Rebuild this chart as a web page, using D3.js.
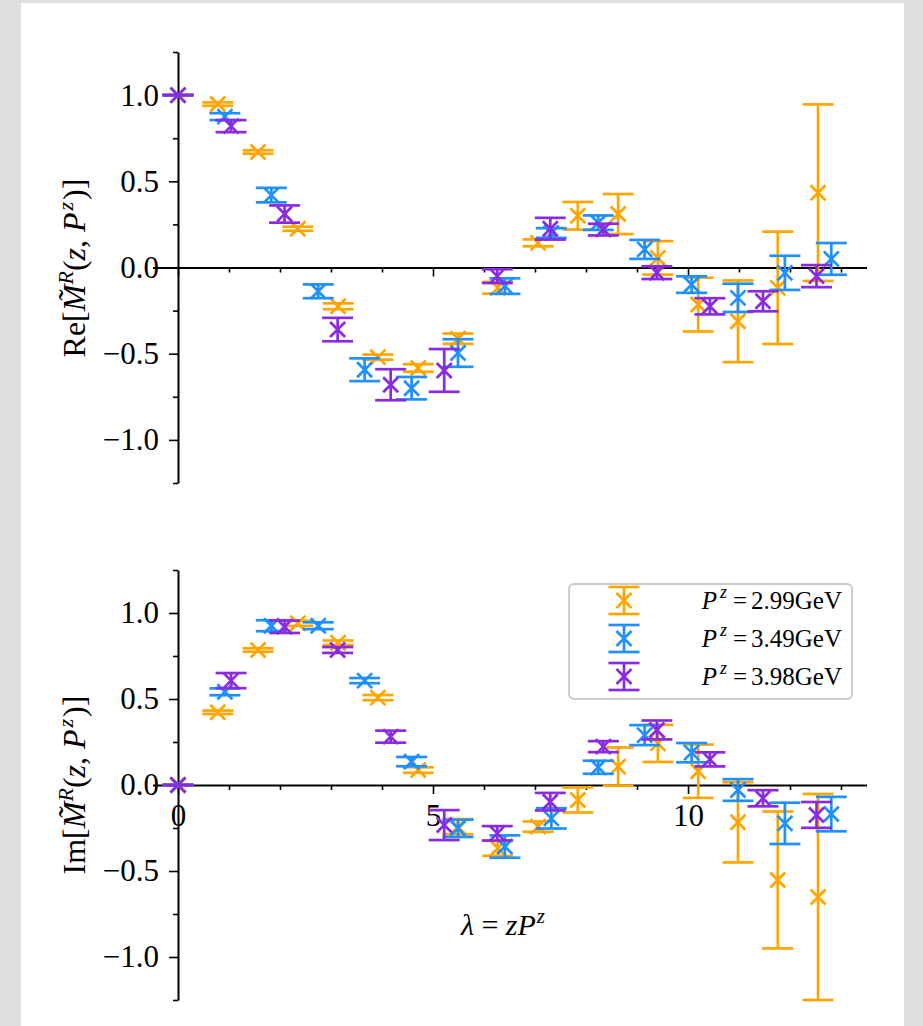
<!DOCTYPE html>
<html>
<head>
<meta charset="utf-8">
<script src="https://cdn.jsdelivr.net/npm/d3@7"></script>
<style>
  html, body { margin: 0; padding: 0; background: #dfdfdf; }
  svg { display: block; }
  text { font-family: "Liberation Serif", "Times New Roman", serif; fill: #000; }
</style>
</head>
<body>
<svg id="fig" width="923" height="1026"></svg>
<script>
// ---- data: λ = z·P^z for each momentum, real and imaginary parts with errors ----
const momenta = ["2.99", "3.49", "3.98"];
const colors = ["#FFA500", "#1E90FF", "#8A2BE2"];

const lambda299 = [0, 0.78, 1.57, 2.35, 3.14, 3.92, 4.71, 5.49, 6.27, 7.06, 7.84, 8.63, 9.41, 10.20, 10.98, 11.76, 12.55];
const re299     = [1.0, 0.948, 0.67, 0.225, -0.225, -0.52, -0.583, -0.413, -0.118, 0.143, 0.30, 0.31, 0.056, -0.215, -0.312, -0.118, 0.434];
const reErr299  = [0, 0.01, 0.01, 0.012, 0.017, 0.015, 0.022, 0.03, 0.034, 0.02, 0.08, 0.116, 0.097, 0.156, 0.237, 0.326, 0.512];
const im299     = [0, 0.423, 0.785, 0.94, 0.827, 0.508, 0.087, -0.242, -0.368, -0.242, -0.087, 0.107, 0.242, 0.08, -0.217, -0.552, -0.651];
const imErr299  = [0, 0.01, 0.01, 0.015, 0.013, 0.015, 0.016, 0.044, 0.044, 0.03, 0.073, 0.111, 0.108, 0.155, 0.233, 0.398, 0.599];

const lambda349 = [0, 0.92, 1.83, 2.75, 3.66, 4.58, 5.49, 6.41, 7.32, 8.24, 9.15, 10.07, 10.98, 11.90, 12.81];
const re349     = [1.0, 0.875, 0.42, -0.138, -0.593, -0.70, -0.496, -0.108, 0.20, 0.26, 0.105, -0.099, -0.176, -0.031, 0.05];
const reErr349  = [0, 0.02, 0.042, 0.04, 0.066, 0.065, 0.08, 0.045, 0.028, 0.042, 0.055, 0.048, 0.082, 0.099, 0.092];
const im349     = [0, 0.542, 0.926, 0.926, 0.607, 0.136, -0.252, -0.358, -0.194, 0.103, 0.29, 0.188, -0.029, -0.223, -0.169];
const imErr349  = [0, 0.02, 0.032, 0.02, 0.015, 0.027, 0.05, 0.065, 0.059, 0.038, 0.058, 0.056, 0.063, 0.12, 0.10];

const lambda398 = [0, 1.04, 2.09, 3.13, 4.17, 5.22, 6.26, 7.30, 8.34, 9.39, 10.43, 11.47, 12.52];
const re398     = [1.0, 0.82, 0.31, -0.36, -0.68, -0.597, -0.05, 0.225, 0.22, -0.03, -0.225, -0.196, -0.05];
const reErr398  = [0, 0.035, 0.05, 0.068, 0.09, 0.124, 0.04, 0.063, 0.034, 0.037, 0.047, 0.058, 0.064];
const im398     = [0, 0.607, 0.92, 0.785, 0.281, -0.233, -0.281, -0.097, 0.223, 0.32, 0.149, -0.077, -0.174];
const imErr398  = [0, 0.044, 0.036, 0.017, 0.035, 0.087, 0.042, 0.051, 0.032, 0.055, 0.041, 0.047, 0.075];

const xMajorTicks = [0, 5, 10];
const xMinorTicks = [1, 2, 3, 4, 6, 7, 8, 9, 11, 12, 13];
const yMajorTicks = [-1.0, -0.5, 0.0, 0.5, 1.0];
const yMinorTicks = [-1.25, -0.75, -0.25, 0.25, 0.75, 1.25];

// ---- assemble series ----
const series = [
  { p: momenta[0], color: colors[0], lam: lambda299, re: re299, reErr: reErr299, im: im299, imErr: imErr299 },
  { p: momenta[1], color: colors[1], lam: lambda349, re: re349, reErr: reErr349, im: im349, imErr: imErr349 },
  { p: momenta[2], color: colors[2], lam: lambda398, re: re398, reErr: reErr398, im: im398, imErr: imErr398 }
];

const svg = d3.select("#fig");
svg.append("rect").attr("x", 0).attr("y", 0).attr("width", 923).attr("height", 1026).attr("fill", "#dfdfdf");
svg.append("rect").attr("x", 21).attr("y", 3).attr("width", 883).attr("height", 1023).attr("fill", "#ffffff");

const x = d3.scaleLinear().domain([-0.5, 13.5]).range([152.5, 866.5]);
const yRe = d3.scaleLinear().domain([-1.25, 1.25]).range([483, 52]);
const yIm = d3.scaleLinear().domain([-1.25, 1.25]).range([1000, 570]);

const CAP = 15.5, MK = 7.5, LW = 2.7;

function errorGlyph(g, cx, cy, yLo, yHi, color) {
  g.append("line").attr("x1", cx).attr("x2", cx).attr("y1", yLo).attr("y2", yHi)
    .attr("stroke", color).attr("stroke-width", LW);
  [yLo, yHi].forEach(yy => g.append("line")
    .attr("x1", cx - CAP).attr("x2", cx + CAP).attr("y1", yy).attr("y2", yy)
    .attr("stroke", color).attr("stroke-width", LW));
  g.append("path")
    .attr("d", `M${cx - MK},${cy - MK}L${cx + MK},${cy + MK}M${cx - MK},${cy + MK}L${cx + MK},${cy - MK}`)
    .attr("stroke", color).attr("stroke-width", LW).attr("fill", "none");
}

function drawAxes(g, y, withXLabels) {
  const x0 = x(0), y0 = y(0);
  // y axis (spine placed at λ = 0)
  const ya = g.append("g").attr("transform", `translate(${x0},0)`)
    .call(d3.axisLeft(y).tickValues(yMajorTicks).tickFormat(d3.format(".1f"))
      .tickSize(9).tickPadding(10).tickSizeOuter(0));
  ya.select(".domain").attr("stroke-width", 2);
  ya.selectAll(".tick line").attr("stroke-width", 1.6);
  ya.selectAll(".tick text").attr("font-size", 31).attr("font-family", "Liberation Serif");
  const ym = g.append("g").attr("transform", `translate(${x0},0)`)
    .call(d3.axisLeft(y).tickValues(yMinorTicks).tickFormat("").tickSize(5).tickSizeOuter(0));
  ym.select(".domain").remove();
  ym.selectAll(".tick line").attr("stroke-width", 1.6);

  // x axis (spine placed at value 0)
  const xa = g.append("g").attr("transform", `translate(0,${y0})`)
    .call(d3.axisBottom(x).tickValues(xMajorTicks)
      .tickFormat(withXLabels ? d3.format("d") : "")
      .tickSize(9).tickPadding(10).tickSizeOuter(0));
  xa.select(".domain").attr("stroke-width", 2);
  xa.selectAll(".tick line").attr("stroke-width", 1.6);
  xa.selectAll(".tick text").attr("font-size", 31).attr("font-family", "Liberation Serif");
  const xm = g.append("g").attr("transform", `translate(0,${y0})`)
    .call(d3.axisBottom(x).tickValues(xMinorTicks).tickFormat("").tickSize(5).tickSizeOuter(0));
  xm.select(".domain").remove();
  xm.selectAll(".tick line").attr("stroke-width", 1.6);
}

function drawPanel(y, key, errKey, withXLabels) {
  const g = svg.append("g");
  drawAxes(g, y, withXLabels);
  series.forEach(s => {
    const sg = g.append("g");
    s.lam.forEach((l, i) => {
      const v = s[key][i], e = s[errKey][i];
      errorGlyph(sg, x(l), y(v), y(v - e), y(v + e), s.color);
    });
  });
  return g;
}

drawPanel(yRe, "re", "reErr", false);
drawPanel(yIm, "im", "imErr", true);

// ---- axis labels ----
function yLabel(prefix, cy) {
  const t = svg.append("text")
    .attr("transform", `translate(85,${cy}) rotate(-90)`)
    .attr("text-anchor", "middle").attr("font-size", 32);
  t.append("tspan").text(prefix + "[");
  t.append("tspan").attr("font-style", "italic").text("M\u0303");
  t.append("tspan").attr("font-style", "italic").attr("font-size", 22).attr("dy", -12).text("R");
  t.append("tspan").attr("dy", 12).text("(");
  t.append("tspan").attr("font-style", "italic").text("z");
  t.append("tspan").text(", ");
  t.append("tspan").attr("font-style", "italic").text("P");
  t.append("tspan").attr("font-style", "italic").attr("font-size", 22).attr("dy", -12).attr("dx", 2).text("z");
  t.append("tspan").attr("dy", 12).attr("dx", 2).text(")]");
}
yLabel("Re", 268);
yLabel("Im", 785);

const xl = svg.append("text").attr("x", 503).attr("y", 935)
  .attr("text-anchor", "middle").attr("font-size", 30);
xl.append("tspan").attr("font-style", "italic").text("\u03bb");
xl.append("tspan").text(" = ");
xl.append("tspan").attr("font-style", "italic").text("zP");
xl.append("tspan").attr("font-style", "italic").attr("font-size", 21).attr("dy", -12).attr("dx", 1).text("z");

// ---- legend ----
const lg = svg.append("g");
lg.append("rect").attr("x", 569).attr("y", 584).attr("width", 283).attr("height", 115)
  .attr("rx", 5).attr("fill", "#ffffff").attr("fill-opacity", 0.8)
  .attr("stroke", "#cccccc").attr("stroke-width", 2);
series.forEach((s, i) => {
  const cy = 600.5 + i * 38;
  errorGlyph(lg, 624, cy, cy + 13.5, cy - 13.5, s.color);
  const t = lg.append("text").attr("x", 842).attr("y", cy + 8.5)
    .attr("text-anchor", "end").attr("font-size", 25);
  t.append("tspan").attr("font-style", "italic").text("P");
  t.append("tspan").attr("font-style", "italic").attr("font-size", 18).attr("dy", -11).attr("dx", 3).text("z");
  t.append("tspan").attr("dy", 11).attr("dx", 6).text("=");
  t.append("tspan").attr("dx", 4).text(s.p + "GeV");
});
</script>
</body>
</html>
